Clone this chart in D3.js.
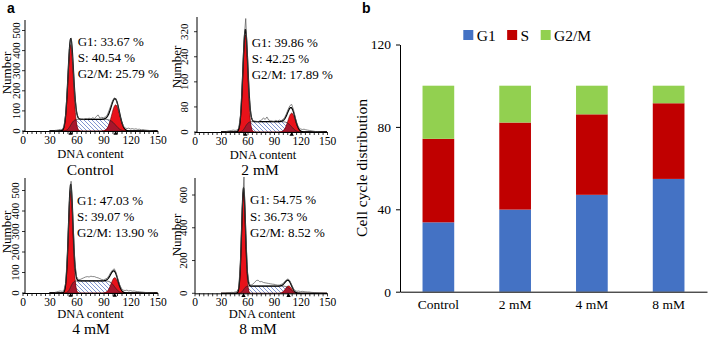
<!DOCTYPE html>
<html><head><meta charset="utf-8">
<script src="https://cdn.jsdelivr.net/npm/d3@7"></script>
<style>
body{margin:0;background:#fff}
svg{display:block}
text{font-family:"Liberation Serif","Times New Roman",serif;fill:#000}
</style>
</head><body>
<svg id="c" width="709" height="337"></svg>
<script>
// ---------------- DATA ----------------
const categories = ["Control", "2 mM", "4 mM", "8 mM"];
const g1Pct = [33.67, 39.86, 47.03, 54.75];
const sPct = [40.54, 42.25, 39.07, 36.73];
const g2mPct = [25.79, 17.89, 13.90, 8.52];
const barTicks = [0, 40, 80, 120];

const histYTicks = [[0,100,200,300,400,500],[0,80,160,240,320],[0,100,200,300,400,500],[0,200,400,600]];
const histXTicks = [0, 30, 60, 90, 120, 150];

// raw DNA histogram (bins of DNA content 36..146, step 2)
const dnaBins = d3.range(36, 147, 2);
const rawControl = [3,4,6,8,7,22,84,230,405,460, 340,185,95,64,55,60,57,62,60,64, 60,66,62,72,80,64,68,66,70,78, 100,125,150,165,160,125,85,48,25,15, 12,14,10,12,9,11,8,9,6,7, 5,4,3,2,1,0];
const raw2mM    = [2,3,4,5,6,5,6,12,50,150, 290,362,240,110,50,36,35,34,33,36, 38,45,40,48,38,36,35,34,37,35, 38,36,40,46,58,72,84,88,72,48, 26,14,10,8,9,7,6,5,4,3, 2,1,1,0,0,0];
const raw4mM    = [3,5,8,10,8,12,50,200,440,545, 360,160,80,66,66,70,74,78,80,78, 82,80,80,76,74,70,66,64,68,72, 84,100,112,118,100,68,40,22,14,12, 14,10,12,9,10,8,7,6,5,4, 3,2,1,0,0,0];
const raw8mM    = [2,3,4,6,5,8,10,30,185,520, 710,380,125,55,50,56,66,78,80,70, 72,66,64,62,60,58,56,55,52,50, 50,54,60,70,82,88,76,52,28,16, 12,14,10,12,10,9,8,8,6,5, 4,3,2,1,0,0];
const rawCounts = [rawControl, raw2mM, raw4mM, raw8mM];

// fitted model components
const g1Center = [53.5, 57.5, 53.5, 55.5];
const g1Height = [430, 310, 500, 620];
const g1Sd     = [3.0, 2.8, 2.5, 2.2];
const g2Center = [103.5, 110, 102.5, 106.5];
const g2Height = [130, 60, 75, 45];
const g2Sd     = [4.5, 4.2, 4.0, 3.6];
const sLevel   = [58, 33, 59, 44];
const sEnd     = [103.5, 110, 102.5, 109];

// ---------------- LAYOUT ----------------
const layouts = [
 {xr:[22.5,157.5], yBase:131,   yPx:30.5,  axisTop:20,  axisX:25,  tickLabX:19.5,  numX:11,  numY:73,  dnaX:90.5, dnaY:157.5, titleX:90.5, titleY:174.5, annX:77.7,  annY:46},
 {xr:[194.5,327],  yBase:132,   yPx:31.7,  axisTop:17,  axisX:197, tickLabX:187.5, numX:181, numY:67,  dnaX:263,  dnaY:158.5, titleX:260,  titleY:175, annX:251.7, annY:46.7},
 {xr:[22.5,157.5], yBase:293,   yPx:190.5, axisTop:178, axisX:25,  tickLabX:19,    numX:11,  numY:232, dnaX:90.5, dnaY:317.8, titleX:91,   titleY:334.2, annX:77,    annY:205},
 {xr:[194.5,327],  yBase:293.3, yPx:195,   axisTop:178, axisX:195, tickLabX:187,   numX:181, numY:235, dnaX:262,  dnaY:317.8, titleX:258,  titleY:334.2, annX:250,   annY:204.3}
];

const svg = d3.select("#c");
svg.append("rect").attr("width",709).attr("height",337).attr("fill","#fff");

const defs = svg.append("defs");
const pat = defs.append("pattern").attr("id","hatch").attr("patternUnits","userSpaceOnUse")
  .attr("width",4).attr("height",4);
pat.append("rect").attr("width",4).attr("height",4).attr("fill","#fff");
pat.append("path").attr("d","M-1,3 L1,5 M0,0 L4,4 M3,-1 L5,1")
  .attr("stroke","#7489cc").attr("stroke-width",0.9);

// normal cdf
function erf(x){
  const s = Math.sign(x); x = Math.abs(x);
  const t = 1/(1+0.3275911*x);
  const y = 1-(((((1.061405429*t-1.453152027)*t)+1.421413741)*t-0.284496736)*t+0.254829592)*t*Math.exp(-x*x);
  return s*y;
}
const Phi = z => 0.5*(1+erf(z/Math.SQRT2));

// panel labels
svg.append("text").attr("x",7).attr("y",13).style("font-family","'Liberation Sans',Arial,sans-serif")
  .style("font-weight","bold").style("font-size","14px").text("a");
svg.append("text").attr("x",362).attr("y",13).style("font-family","'Liberation Sans',Arial,sans-serif")
  .style("font-weight","bold").style("font-size","14px").text("b");

// ---------------- HISTOGRAMS ----------------
categories.forEach((cat, i) => {
  const L = layouts[i];
  const yTicks = histYTicks[i];
  const x = d3.scaleLinear().domain([0,150]).range(L.xr);
  const y = d3.scaleLinear().domain([0, d3.max(yTicks)]).range([L.yBase, L.yPx]);
  const g = svg.append("g");

  const grid = d3.range(30, 150.01, 0.25);
  const pts = grid.map(v => {
    const a = g1Height[i]*Math.exp(-((v-g1Center[i])**2)/(2*g1Sd[i]**2));
    const b = g2Height[i]*Math.exp(-((v-g2Center[i])**2)/(2*g2Sd[i]**2));
    const s = sLevel[i]*(Phi((v-g1Center[i])/g1Sd[i]) - Phi((v-sEnd[i])/g2Sd[i]));
    return {x:v, g1:a, g2:b, s:s, o1:Math.min(a,s), o2:Math.min(b,s), env:a+b+s};
  });
  const area = key => d3.area().x(d=>x(d.x)).y0(y(0)).y1(d=>y(d[key]));
  const line = key => d3.line().x(d=>x(d.x)).y(d=>y(d[key]));

  g.append("path").datum(pts).attr("d", area("s")).attr("fill","url(#hatch)");
  g.append("path").datum(pts).attr("d", area("g1")).attr("fill","#e8121a");
  g.append("path").datum(pts).attr("d", area("g2")).attr("fill","#e8121a");
  g.append("path").datum(pts).attr("d", area("o1")).attr("fill","#a8162c");
  g.append("path").datum(pts).attr("d", area("o2")).attr("fill","#a8162c");
  g.append("path").datum(pts).attr("d", line("s")).attr("fill","none").attr("stroke","#222").attr("stroke-width",0.7);
  g.append("path").datum(pts).attr("d", line("g1")).attr("fill","none").attr("stroke","#5a0000").attr("stroke-width",0.6);
  g.append("path").datum(pts).attr("d", line("g2")).attr("fill","none").attr("stroke","#5a0000").attr("stroke-width",0.6);
  g.append("path").datum(pts).attr("d", line("env")).attr("fill","none").attr("stroke","#000").attr("stroke-width",1.3);

  const raw = dnaBins.map((b,k)=>({x:b, v:rawCounts[i][k]}));
  g.append("path").datum(raw).attr("d", d3.line().x(d=>x(d.x)).y(d=>y(d.v)))
    .attr("fill","none").attr("stroke","#555").attr("stroke-width",0.7);

  // x axis
  const xa = g.append("g").attr("transform",`translate(0,${L.yBase})`)
    .call(d3.axisBottom(x).tickValues(d3.range(0,151,5)).tickSize(3).tickSizeOuter(0).tickPadding(1.5)
      .tickFormat(d => histXTicks.includes(d) ? d : ""));
  xa.select(".domain").attr("stroke","#000").attr("stroke-width",1);
  xa.selectAll(".tick line").attr("stroke","#000").attr("stroke-width",0.8);
  xa.selectAll(".tick text").style("font-family","'Liberation Serif',serif").style("font-size","11.5px").attr("fill","#000");

  // y axis
  g.append("line").attr("x1",L.axisX).attr("x2",L.axisX).attr("y1",L.yBase).attr("y2",L.axisTop)
    .attr("stroke","#000").attr("stroke-width",1);
  g.selectAll(".yt").data(yTicks).enter().append("line")
    .attr("x1",L.axisX-3).attr("x2",L.axisX).attr("y1",d=>y(d)).attr("y2",d=>y(d))
    .attr("stroke","#000").attr("stroke-width",0.8);
  g.selectAll(".ytl").data(yTicks).enter().append("text")
    .attr("transform",d=>`translate(${L.tickLabX},${y(d)}) rotate(-90)`)
    .attr("text-anchor","middle").style("font-size","11px").text(d=>d);
  g.append("text").attr("transform",`translate(${L.numX},${L.numY}) rotate(-90)`)
    .attr("text-anchor","middle").style("font-size","13px").text("Number");

  // markers
  [g1Center[i], g2Center[i]].forEach(c => {
    const cx = x(c);
    g.append("path").attr("d",`M${cx},${L.yBase} l2.2,3.8 l-4.4,0 z`).attr("fill","#000");
  });

  g.append("text").attr("x",L.dnaX).attr("y",L.dnaY).attr("text-anchor","middle")
    .style("font-size","12.5px").text("DNA content");
  g.append("text").attr("x",L.titleX).attr("y",L.titleY).attr("text-anchor","middle")
    .style("font-size","15.5px").text(cat);

  const ann = [`G1: ${g1Pct[i].toFixed(2)} %`, `S: ${sPct[i].toFixed(2)} %`, `G2/M: ${g2mPct[i].toFixed(2)} %`];
  ann.forEach((t,k) => g.append("text").attr("x",L.annX).attr("y",L.annY + k*16.2)
    .style("font-size","13px").text(t));
});

// ---------------- STACKED BAR ----------------
const rows = categories.map((c,k)=>({cat:c, G1:g1Pct[k], S:sPct[k], "G2/M":g2mPct[k]}));
const keys = ["G1","S","G2/M"];
const colors = ["#4472C4","#C00000","#92D050"];
const stack = d3.stack().keys(keys)(rows);

const bx = d3.scaleBand().domain(categories).range([400,707]).paddingInner(0.587).paddingOuter(0.2935);
const by = d3.scaleLinear().domain([0,120]).range([291.7,44.5]);

const bg = svg.append("g");
stack.forEach((layer,li) => {
  bg.selectAll(null).data(layer).enter().append("rect")
    .attr("x", d=>bx(d.data.cat)).attr("width", bx.bandwidth())
    .attr("y", d=>by(d[1])).attr("height", d=>by(d[0])-by(d[1]))
    .attr("fill", colors[li]);
});

const ya = bg.append("g").attr("transform","translate(400,0)")
  .call(d3.axisLeft(by).tickValues(barTicks).tickSize(4).tickSizeOuter(0).tickPadding(5));
ya.select(".domain").attr("stroke","#000");
ya.selectAll(".tick line").attr("stroke","#000");
ya.selectAll(".tick text").style("font-family","'Liberation Serif',serif").style("font-size","13.5px").attr("fill","#000");

const xa2 = bg.append("g").attr("transform","translate(0,291.7)")
  .call(d3.axisBottom(bx).tickSize(0).tickSizeOuter(0).tickPadding(7.5));
xa2.select(".domain").attr("stroke","#000");
xa2.selectAll(".tick text").style("font-family","'Liberation Serif',serif").style("font-size","13.5px").attr("fill","#000");

bg.append("text").attr("transform","translate(367,168) rotate(-90)").attr("text-anchor","middle")
  .style("font-size","15.5px").text("Cell cycle distribution");

// legend
let lx = 463.3;
keys.forEach((k,li) => {
  bg.append("rect").attr("x",lx).attr("y",30).attr("width",10).attr("height",10).attr("fill",colors[li]);
  const t = bg.append("text").attr("x",lx+13.4).attr("y",40.5).style("font-size","15.5px").text(k);
  lx += 13.4 + t.node().getComputedTextLength() + 11.5;
});
</script>
</body></html>
